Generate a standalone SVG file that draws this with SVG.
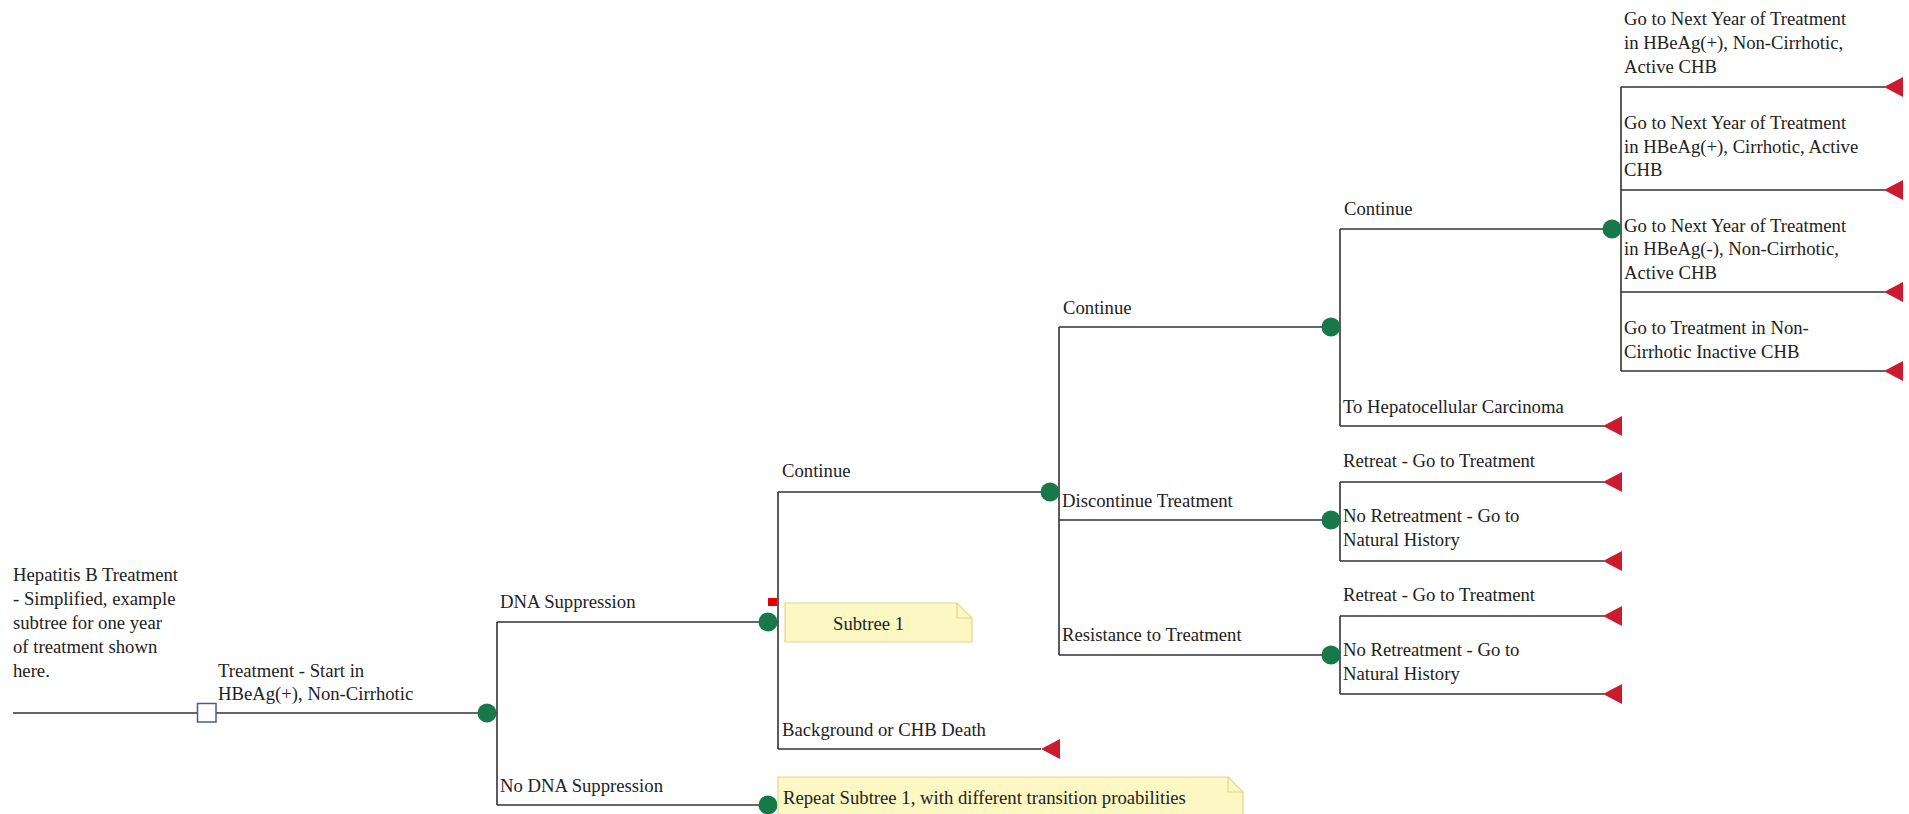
<svg xmlns="http://www.w3.org/2000/svg" width="1909" height="814" viewBox="0 0 1909 814">
<style>
.ln{stroke:#333;stroke-width:1.6;fill:none}
.ch{fill:#17784a}
.tm{fill:#cc1a2e}
.dc{fill:#fff;stroke:#4a5c8c;stroke-width:1.5}
.lb{font-family:"Liberation Serif","Times New Roman",serif;font-size:18.7px;fill:#222}
.note{fill:#fdf7c3;stroke:#e3d58a;stroke-width:1.2}
.fold{fill:none;stroke:#e3d58a;stroke-width:1.2}
</style>
<defs>
<path id="tri" d="M0 0 L19 -10 L19 10 Z"/>
</defs>
<rect width="1909" height="814" fill="#fff"/>

<g id="connectors" class="ln">
<path d="M13 713 H487"/>
<path d="M487 713 H497 M497 622 V805 M497 622 H768 M497 805 H768"/>
<path d="M768 622 H778 M778 492 V749 M778 492 H1050 M778 749 H1041"/>
<path d="M1050 492 H1059 M1059 327 V655 M1059 327 H1331 M1059 520 H1331 M1059 655 H1331"/>
<path d="M1331 327 H1340 M1340 229 V426 M1340 229 H1612 M1340 426 H1604"/>
<path d="M1331 520 H1340 M1340 482 V561 M1340 482 H1604 M1340 561 H1604"/>
<path d="M1331 655 H1340 M1340 616 V694 M1340 616 H1604 M1340 694 H1604"/>
<path d="M1612 229 H1621 M1621 87 V371 M1621 87 H1885 M1621 190 H1885 M1621 292 H1885 M1621 371 H1885"/>
</g>

<g id="root-label">
<text class="lb" x="13" y="581">Hepatitis B Treatment</text>
<text class="lb" x="13" y="605">- Simplified, example</text>
<text class="lb" x="13" y="629">subtree for one year</text>
<text class="lb" x="13" y="653">of treatment shown</text>
<text class="lb" x="13" y="677">here.</text>
</g>

<g id="decision">
<rect class="dc" x="197.5" y="703.5" width="18.5" height="18.5"/>
<text class="lb" x="218" y="677">Treatment - Start in</text>
<text class="lb" x="218" y="700">HBeAg(+), Non-Cirrhotic</text>
</g>

<g id="chance-suppression">
<circle class="ch" cx="487" cy="713" r="9.5"/>
<text class="lb" x="500" y="608">DNA Suppression</text>
<text class="lb" x="500" y="792">No DNA Suppression</text>
</g>

<g id="subtree1">
<rect x="768" y="598" width="9" height="8" fill="#e60000"/>
<circle class="ch" cx="768" cy="622" r="9.5"/>
<text class="lb" x="782" y="477">Continue</text>
<text class="lb" x="782" y="736">Background or CHB Death</text>
<use href="#tri" class="tm" x="1041" y="749"/>
</g>

<g id="note-subtree1">
<path class="note" d="M785 603 H957 L972 618 V642 H785 Z"/>
<path class="fold" d="M957 603 V618 H972"/>
<text class="lb" x="833" y="630">Subtree 1</text>
</g>

<g id="no-suppression">
<circle class="ch" cx="768" cy="805" r="9.5"/>
</g>

<g id="note-repeat">
<path class="note" d="M778 777 H1228 L1243 792 V830 H778 Z"/>
<path class="fold" d="M1228 777 V792 H1243"/>
<text class="lb" x="783" y="804">Repeat Subtree 1, with different transition proabilities</text>
</g>

<g id="chance-continue">
<circle class="ch" cx="1050" cy="492" r="9.5"/>
<text class="lb" x="1063" y="314">Continue</text>
<text class="lb" x="1062" y="507">Discontinue Treatment</text>
<text class="lb" x="1062" y="641">Resistance to Treatment</text>
</g>

<g id="chance-continue2">
<circle class="ch" cx="1331" cy="327" r="9.5"/>
<text class="lb" x="1344" y="215">Continue</text>
<text class="lb" x="1343" y="413">To Hepatocellular Carcinoma</text>
<use href="#tri" class="tm" x="1603" y="426"/>
</g>

<g id="chance-discontinue">
<circle class="ch" cx="1331" cy="520" r="9.5"/>
<text class="lb" x="1343" y="467">Retreat - Go to Treatment</text>
<use href="#tri" class="tm" x="1603" y="482"/>
<text class="lb" x="1343" y="522">No Retreatment - Go to</text>
<text class="lb" x="1343" y="546">Natural History</text>
<use href="#tri" class="tm" x="1603" y="561"/>
</g>

<g id="chance-resistance">
<circle class="ch" cx="1331" cy="655" r="9.5"/>
<text class="lb" x="1343" y="601">Retreat - Go to Treatment</text>
<use href="#tri" class="tm" x="1603" y="616"/>
<text class="lb" x="1343" y="656">No Retreatment - Go to</text>
<text class="lb" x="1343" y="680">Natural History</text>
<use href="#tri" class="tm" x="1603" y="694"/>
</g>

<g id="chance-next-year">
<circle class="ch" cx="1612" cy="229" r="9.5"/>
<text class="lb" x="1624" y="25">Go to Next Year of Treatment</text>
<text class="lb" x="1624" y="49">in HBeAg(+), Non-Cirrhotic,</text>
<text class="lb" x="1624" y="73">Active CHB</text>
<use href="#tri" class="tm" x="1884" y="87"/>
<text class="lb" x="1624" y="129">Go to Next Year of Treatment</text>
<text class="lb" x="1624" y="153">in HBeAg(+), Cirrhotic, Active</text>
<text class="lb" x="1624" y="176">CHB</text>
<use href="#tri" class="tm" x="1884" y="190"/>
<text class="lb" x="1624" y="232">Go to Next Year of Treatment</text>
<text class="lb" x="1624" y="255">in HBeAg(-), Non-Cirrhotic,</text>
<text class="lb" x="1624" y="279">Active CHB</text>
<use href="#tri" class="tm" x="1884" y="292"/>
<text class="lb" x="1624" y="334">Go to Treatment in Non-</text>
<text class="lb" x="1624" y="358">Cirrhotic Inactive CHB</text>
<use href="#tri" class="tm" x="1884" y="371"/>
</g>
</svg>
